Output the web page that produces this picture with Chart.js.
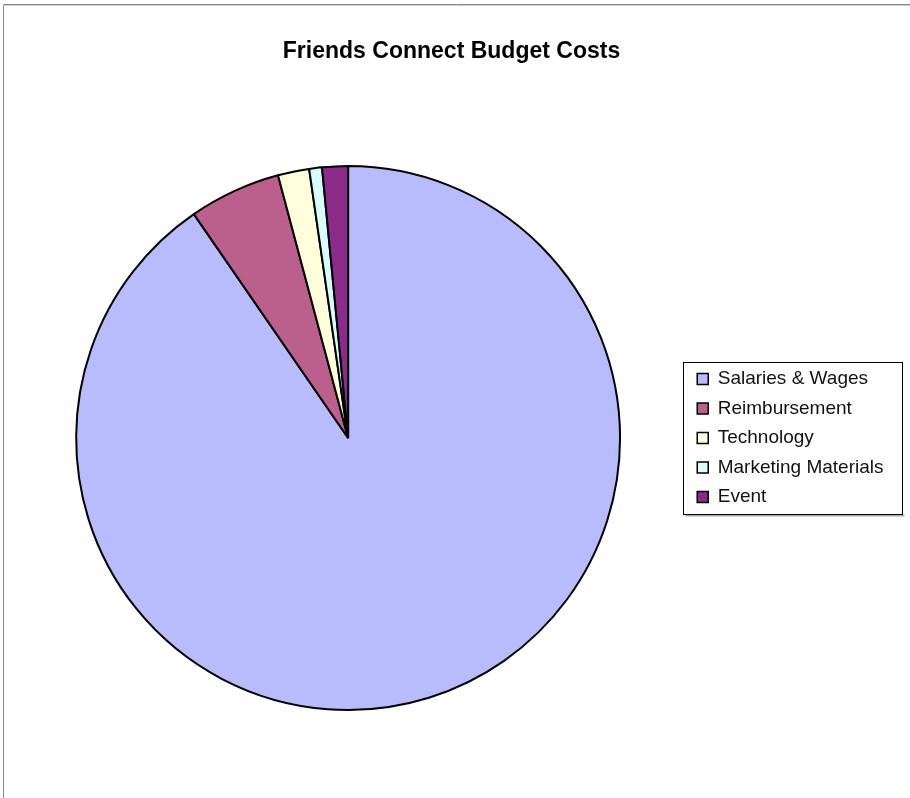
<!DOCTYPE html>
<html>
<head>
<meta charset="utf-8">
<script src="https://cdn.jsdelivr.net/npm/chart.js@4.4.1/dist/chart.umd.min.js"></script>
<style>
    html, body { margin: 0; padding: 0; background: #fff; }
    canvas { display: block; }
</style>
</head>
<body>
<canvas id="budget-chart" width="910" height="798"></canvas>
<script>
// budget split (share of total, %)
const categories = ['Salaries & Wages', 'Reimbursement', 'Technology', 'Marketing Materials', 'Event'];
const costs = [90.4, 5.45, 1.86, 0.76, 1.53];
const sliceColors = ['#B8BCFC', '#BB5F8D', '#FFFFDC', '#D8FCFF', '#8B2C8B'];
const chartTitle = 'Friends Connect Budget Costs';

// frame + legend border, like the old spreadsheet export
const framePlugin = {
    id: 'frame',
    beforeDraw(chart) {
        let ctx = chart.ctx;
        ctx.save();
        ctx.strokeStyle = '#888';
        ctx.lineWidth = 1;
        ctx.beginPath();
        ctx.moveTo(3.5, chart.height);
        ctx.lineTo(3.5, 4.5);
        ctx.lineTo(chart.width, 4.5);
        ctx.stroke();
        ctx.strokeStyle = '#ccc';
        ctx.beginPath();
        ctx.moveTo(4.5, 5.5);
        ctx.lineTo(chart.width, 5.5);
        ctx.stroke();
        ctx.restore();
    },
    afterDraw(chart) {
        let legend = chart.legend;
        if (!legend || !legend.legendHitBoxes || !legend.legendHitBoxes.length) return;
        let boxes = legend.legendHitBoxes;
        let first = boxes[0];
        let last = boxes[boxes.length - 1];
        let x = Math.round(legend.left) - 3.5;
        let y = Math.round(first.top) - 7.5;
        let w = 219;
        let h = Math.round(last.top + last.height - first.top) + 15;
        let ctx = chart.ctx;
        ctx.save();
        ctx.fillStyle = '#aaa';
        ctx.fillRect(x + 2, y + h, w, 2);
        ctx.strokeStyle = '#000';
        ctx.lineWidth = 1;
        ctx.strokeRect(x, y, w, h);
        ctx.restore();
    }
};

const ctx = document.querySelector('#budget-chart').getContext('2d');

new Chart(ctx, {
    type: 'pie',
    data: {
        labels: categories,
        datasets: [{
            data: costs,
            backgroundColor: sliceColors,
            borderColor: '#000',
            borderWidth: 2
        }]
    },
    options: {
        responsive: false,
        animation: false,
        devicePixelRatio: 1,
        layout: {
            padding: { left: 9.5, right: 16.5, top: 0, bottom: 87 }
        },
        plugins: {
            title: {
                display: true,
                text: chartTitle,
                color: '#000',
                font: { family: 'Liberation Sans, Arial, sans-serif', size: 23, weight: 'bold' },
                padding: { top: 38, bottom: 99.5 }
            },
            legend: {
                position: 'right',
                fullSize: false,
                labels: {
                    color: '#111',
                    boxWidth: 11,
                    boxHeight: 11,
                    padding: 10.5,
                    font: { family: 'Liberation Sans, Arial, sans-serif', size: 19 },
                    generateLabels(chart) {
                        let items = Chart.overrides.pie.plugins.legend.labels.generateLabels(chart);
                        items.forEach(item => { item.lineWidth = 1.5; });
                        return items;
                    }
                }
            },
            tooltip: { enabled: false }
        }
    },
    plugins: [framePlugin]
});
</script>
</body>
</html>
